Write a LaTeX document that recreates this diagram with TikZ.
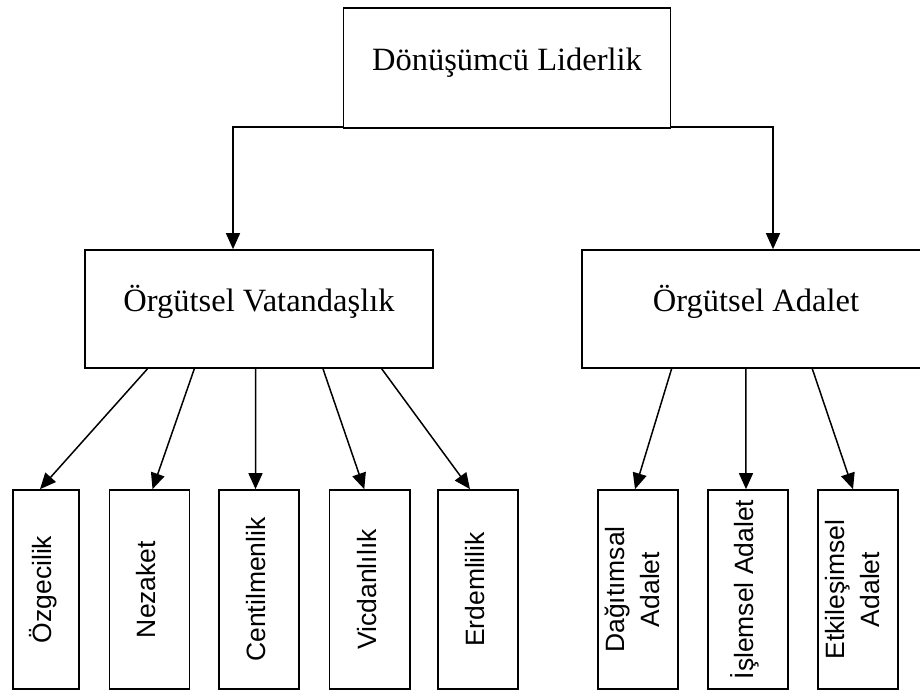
\documentclass[tikz,border=0pt]{standalone}
\usepackage{fontspec}
\usepackage{graphicx}
\setmainfont{Liberation Serif}
\newfontfamily\labelsans{Liberation Sans}
\usetikzlibrary{arrows.meta,calc}

% upright label read from bottom to top, set a little left of the box centre
\newcommand{\sidetext}[1]{\rotatebox{90}{#1}\hspace*{6pt}}

\begin{document}
\begin{tikzpicture}[x=1pt,y=-1pt,
  box/.style={draw, line width=1.7pt, inner sep=0pt},
  headbox/.style={box, font=\fontsize{32.5}{38}\selectfont,
    text height=22pt, text depth=18pt},
  leafbox/.style={box, minimum height=199pt,
    font=\labelsans\fontsize{26.5}{35}\selectfont},
  arr/.style={line width=1.5pt, -{Triangle[length=16pt,width=14pt]}}
]
\useasboundingbox (0,0) rectangle (920,691);

% top level
\node[headbox, minimum width=327pt, minimum height=120pt] (lead) at (507,68) {Dönüşümcü Liderlik};

% second level
\node[headbox, minimum width=348pt, minimum height=118pt] (ocb) at (259,309) {Örgütsel Vatandaşlık};
\node[headbox, minimum width=348pt, minimum height=118pt] (oj)  at (756,309) {Örgütsel Adalet};

% citizenship dimensions
\node[leafbox, minimum width=66pt]   (alt) at (46,589.5)    {\sidetext{Özgecilik}};
\node[leafbox, minimum width=80pt]   (cou) at (149.5,589.5) {\sidetext{Nezaket}};
\node[leafbox, minimum width=80pt]   (spo) at (259,589.5)   {\sidetext{Centilmenlik}};
\node[leafbox, minimum width=80.5pt] (con) at (369.75,589.5){\sidetext{Vicdanlılık}};
\node[leafbox, minimum width=80pt]   (civ) at (478,589.5)   {\sidetext{Erdemlilik}};

% justice dimensions
\node[leafbox, minimum width=80pt] (dis) at (638,589.5) {\sidetext{\begin{tabular}{@{}c@{}}Dağıtımsal\\Adalet\end{tabular}}};
\node[leafbox, minimum width=80pt] (pro) at (748,589.5) {\sidetext{İşlemsel Adalet}};
\node[leafbox, minimum width=80pt] (int) at (858,589.5) {\sidetext{\begin{tabular}{@{}c@{}}Etkileşimsel\\Adalet\end{tabular}}};

% leadership to the two constructs
\draw[arr] ([yshift=2pt]lead.south west) -| ([xshift=-26pt]ocb.north);
\draw[arr] ([yshift=2pt]lead.south east) -| ([xshift=17pt]oj.north);

% citizenship branches
\draw[arr] ($(ocb.south west)!0.181!(ocb.south east)$) -- ([xshift=-6pt]alt.north);
\draw[arr] ($(ocb.south west)!0.315!(ocb.south east)$) -- ([xshift=3pt]cou.north);
\draw[arr] ($(ocb.south west)!0.49!(ocb.south east)$)  -- ([xshift=-3.5pt]spo.north);
\draw[arr] ($(ocb.south west)!0.683!(ocb.south east)$) -- ([xshift=-5.5pt]con.north);
\draw[arr] ($(ocb.south west)!0.851!(ocb.south east)$) -- ([xshift=-8pt]civ.north);

% justice branches
\draw[arr] ($(oj.south west)!0.2586!(oj.south east)$) -- ([xshift=-3pt]dis.north);
\draw[arr] ($(oj.south west)!0.471!(oj.south east)$)  -- ([xshift=-2pt]pro.north);
\draw[arr] ($(oj.south west)!0.661!(oj.south east)$)  -- ([xshift=-5pt]int.north);
\end{tikzpicture}
\end{document}
